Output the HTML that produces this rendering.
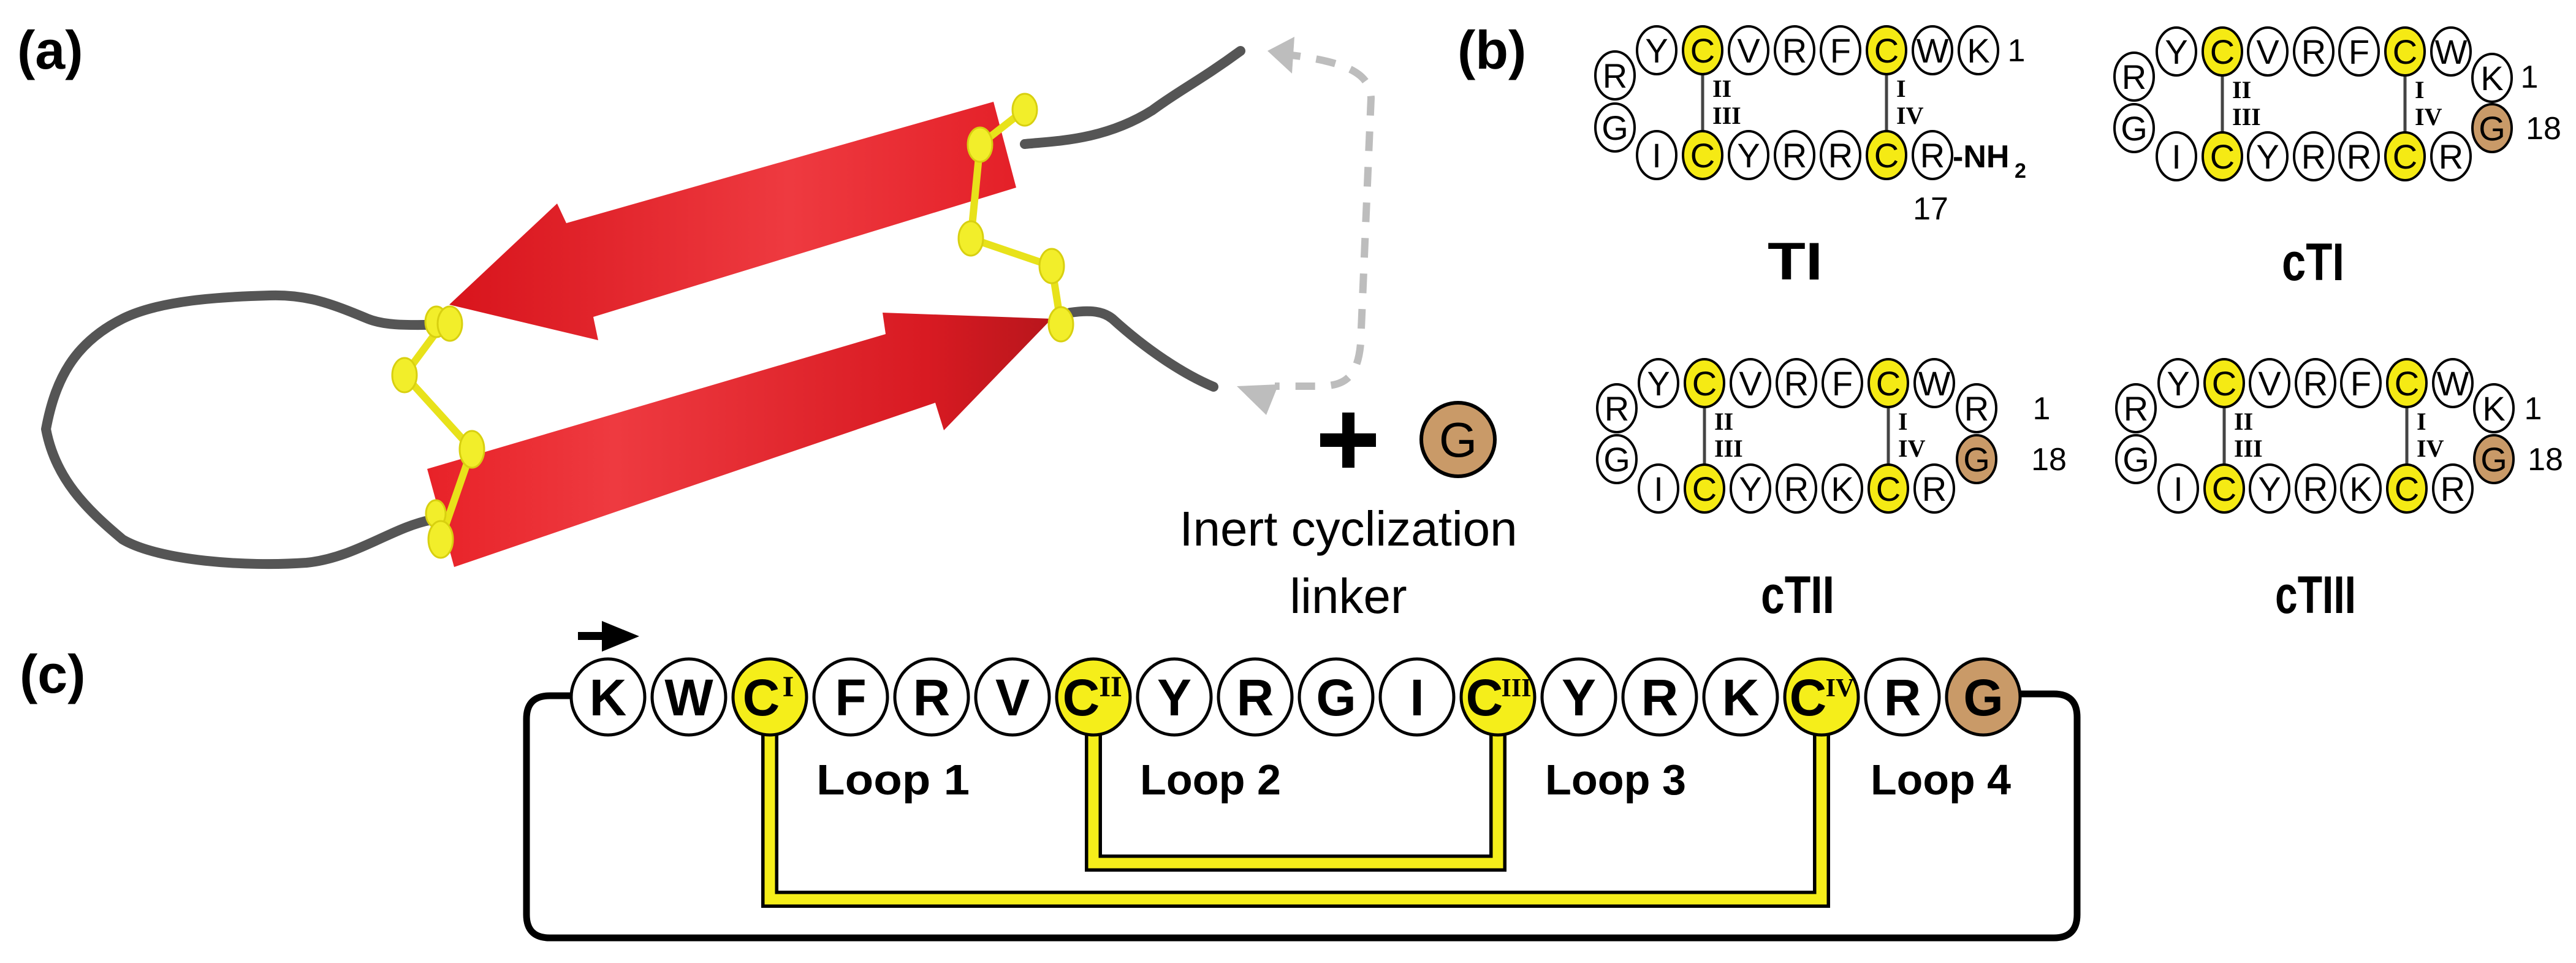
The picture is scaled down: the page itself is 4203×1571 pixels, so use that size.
<!DOCTYPE html>
<html><head><meta charset="utf-8"><style>
html,body{margin:0;padding:0;background:#fff;}
svg{display:block;}
.rn{font-family:"Liberation Serif",serif;font-weight:bold;font-size:40px;}
.sup{font-family:"Liberation Serif",serif;font-weight:bold;font-size:48px;}
.num{font-family:"Liberation Sans",sans-serif;font-size:52px;font-weight:normal;}
.lbl{font-family:"Liberation Sans",sans-serif;font-weight:bold;}
</style></head><body>
<svg width="4203" height="1571" viewBox="0 0 4203 1571" xmlns="http://www.w3.org/2000/svg">
<defs>
<linearGradient id="rg1" x1="0" y1="0" x2="1" y2="0">
<stop offset="0" stop-color="#d8141c"/><stop offset="0.6" stop-color="#ee3a40"/><stop offset="1" stop-color="#e42028"/>
</linearGradient>
<linearGradient id="rg2" x1="0" y1="0" x2="1" y2="0">
<stop offset="0" stop-color="#e82228"/><stop offset="0.3" stop-color="#ee3a40"/><stop offset="0.8" stop-color="#d81a22"/><stop offset="1" stop-color="#b8161c"/>
</linearGradient>
</defs>

<text x="28" y="112" class="lbl" font-size="88">(a)</text>
<text x="2378" y="112" class="lbl" font-size="88">(b)</text>
<text x="32" y="1130" class="lbl" font-size="88">(c)</text>

<!-- ===== Panel (a) ===== -->
<g fill="none" stroke="#555" stroke-width="16" stroke-linecap="round" stroke-linejoin="round">
<path d="M2024,83 C1960,130 1920,150 1880,180 C1800,230 1720,230 1672,235"/>
<path d="M704,530 C670,530 630,532 600,520 C540,495 500,480 440,482 C360,484 260,490 200,520 C120,560 90,620 75,700 C90,780 140,830 200,880 C260,915 400,925 500,918 C580,910 640,860 704,848"/>
<path d="M1746,510 C1780,505 1800,508 1815,520 C1870,570 1930,610 1980,631"/>
</g>
<polygon points="1621,166 1658,306 968,517 976,555 733,497 909,332 924,364" fill="url(#rg1)"/>
<polygon points="697,765 1445,545 1440,510 1716,520 1540,702 1526,657 741,925" fill="url(#rg2)"/>
<g stroke="#e8e21a" stroke-width="12" fill="none" stroke-linecap="round">
<path d="M1672,179 L1599,236 L1584,389 L1716,434 L1731,529"/>
<path d="M726,523 L660,612 L770,733 L719,880"/>
</g>
<g fill="#f2ee2a" stroke="#d8d010" stroke-width="3">
<ellipse cx="1672" cy="179" rx="20" ry="26"/>
<ellipse cx="1599" cy="236" rx="20" ry="28"/>
<ellipse cx="1584" cy="389" rx="20" ry="28"/>
<ellipse cx="1716" cy="434" rx="20" ry="28"/>
<ellipse cx="1731" cy="529" rx="20" ry="28"/>
<ellipse cx="712" cy="525" rx="18" ry="25"/>
<ellipse cx="734" cy="528" rx="20" ry="28"/>
<ellipse cx="660" cy="612" rx="20" ry="28"/>
<ellipse cx="770" cy="733" rx="20" ry="30"/>
<ellipse cx="711" cy="838" rx="16" ry="22"/>
<ellipse cx="719" cy="880" rx="20" ry="30"/>
</g>
<path d="M2090,88 C2200,100 2235,120 2237,160 L2220,560 C2215,620 2190,630 2150,630 L2080,630" fill="none" stroke="#bdbdbd" stroke-width="12" stroke-dasharray="32 26"/>
<polygon points="2068,83 2112,60 2108,120" fill="#bdbdbd"/>
<polygon points="2018,630 2086,627 2066,677" fill="#bdbdbd"/>
<rect x="2154" y="707" width="91" height="22" fill="#000"/>
<rect x="2190" y="673" width="20" height="90" fill="#000"/>
<circle cx="2379" cy="717" r="60" fill="#c99a68" stroke="#000" stroke-width="6"/>
<text x="2379" y="745" font-family="Liberation Sans,sans-serif" font-size="80" text-anchor="middle">G</text>
<text x="2200" y="890" font-family="Liberation Sans,sans-serif" font-size="80" text-anchor="middle">Inert cyclization</text>
<text x="2200" y="1000" font-family="Liberation Sans,sans-serif" font-size="80" text-anchor="middle">linker</text>

<!-- ===== Panel (b) ===== -->
<g font-family="Liberation Sans, sans-serif" font-size="56" text-anchor="middle">
<!-- TI -->
<g transform="translate(0,82)">
<g stroke="#444" stroke-width="5"><line x1="2778" y1="38" x2="2778" y2="133"/><line x1="3078" y1="38" x2="3078" y2="133"/></g>
<g fill="#fff" stroke="#000" stroke-width="4">
<ellipse cx="2635" cy="41" rx="32" ry="39"/><ellipse cx="2635" cy="126" rx="32" ry="39"/>
<ellipse cx="2703" cy="0" rx="32" ry="39"/><ellipse cx="2778" cy="0" rx="32" ry="39" fill="#f5ea14"/><ellipse cx="2853" cy="0" rx="32" ry="39"/><ellipse cx="2928" cy="0" rx="32" ry="39"/><ellipse cx="3003" cy="0" rx="32" ry="39"/><ellipse cx="3078" cy="0" rx="32" ry="39" fill="#f5ea14"/><ellipse cx="3153" cy="0" rx="32" ry="39"/><ellipse cx="3228" cy="0" rx="32" ry="39"/>
<ellipse cx="2703" cy="171" rx="32" ry="39"/><ellipse cx="2778" cy="171" rx="32" ry="39" fill="#f5ea14"/><ellipse cx="2853" cy="171" rx="32" ry="39"/><ellipse cx="2928" cy="171" rx="32" ry="39"/><ellipse cx="3003" cy="171" rx="32" ry="39"/><ellipse cx="3078" cy="171" rx="32" ry="39" fill="#f5ea14"/><ellipse cx="3153" cy="171" rx="32" ry="39"/>
</g>
<text x="2635" y="61">R</text><text x="2635" y="146">G</text>
<text x="2703" y="20">Y</text><text x="2778" y="20">C</text><text x="2853" y="20">V</text><text x="2928" y="20">R</text><text x="3003" y="20">F</text><text x="3078" y="20">C</text><text x="3153" y="20">W</text><text x="3228" y="20">K</text>
<text x="2703" y="191">I</text><text x="2778" y="191">C</text><text x="2853" y="191">Y</text><text x="2928" y="191">R</text><text x="3003" y="191">R</text><text x="3078" y="191">C</text><text x="3153" y="191">R</text>
<text class="rn" x="2794" y="76" text-anchor="start">II</text><text class="rn" x="2794" y="120" text-anchor="start">III</text>
<text class="rn" x="3094" y="76" text-anchor="start">I</text><text class="rn" x="3094" y="120" text-anchor="start">IV</text>
<text class="num" x="3290" y="18">1</text>
<text x="3186" y="191" text-anchor="start" font-size="52" font-weight="bold">-NH</text><text x="3287" y="208" font-size="34" font-weight="bold" text-anchor="start">2</text>
<text class="num" x="3150" y="276">17</text>
</g>
<text x="2929" y="456" class="lbl" font-size="86" textLength="90" lengthAdjust="spacingAndGlyphs">TI</text>

<!-- cTII -->
<g transform="translate(3,625)">
<g stroke="#444" stroke-width="5"><line x1="2778" y1="38" x2="2778" y2="133"/><line x1="3078" y1="38" x2="3078" y2="133"/></g>
<g fill="#fff" stroke="#000" stroke-width="4">
<ellipse cx="2635" cy="41" rx="32" ry="39"/><ellipse cx="2635" cy="124" rx="32" ry="39"/>
<ellipse cx="2703" cy="0" rx="32" ry="39"/><ellipse cx="2778" cy="0" rx="32" ry="39" fill="#f5ea14"/><ellipse cx="2853" cy="0" rx="32" ry="39"/><ellipse cx="2928" cy="0" rx="32" ry="39"/><ellipse cx="3003" cy="0" rx="32" ry="39"/><ellipse cx="3078" cy="0" rx="32" ry="39" fill="#f5ea14"/><ellipse cx="3153" cy="0" rx="32" ry="39"/>
<ellipse cx="3222" cy="41" rx="32" ry="39"/><ellipse cx="3222" cy="124" rx="32" ry="39" fill="#c99a68"/>
<ellipse cx="2703" cy="172" rx="32" ry="39"/><ellipse cx="2778" cy="172" rx="32" ry="39" fill="#f5ea14"/><ellipse cx="2853" cy="172" rx="32" ry="39"/><ellipse cx="2928" cy="172" rx="32" ry="39"/><ellipse cx="3003" cy="172" rx="32" ry="39"/><ellipse cx="3078" cy="172" rx="32" ry="39" fill="#f5ea14"/><ellipse cx="3153" cy="172" rx="32" ry="39"/>
</g>
<text x="2635" y="61">R</text><text x="2635" y="144">G</text>
<text x="2703" y="20">Y</text><text x="2778" y="20">C</text><text x="2853" y="20">V</text><text x="2928" y="20">R</text><text x="3003" y="20">F</text><text x="3078" y="20">C</text><text x="3153" y="20">W</text>
<text x="3222" y="61">R</text><text x="3222" y="144">G</text>
<text x="2703" y="192">I</text><text x="2778" y="192">C</text><text x="2853" y="192">Y</text><text x="2928" y="192">R</text><text x="3003" y="192">K</text><text x="3078" y="192">C</text><text x="3153" y="192">R</text>
<text class="rn" x="2794" y="76" text-anchor="start">II</text><text class="rn" x="2794" y="120" text-anchor="start">III</text>
<text class="rn" x="3094" y="76" text-anchor="start">I</text><text class="rn" x="3094" y="120" text-anchor="start">IV</text>
<text class="num" x="3328" y="59">1</text>
<text class="num" x="3340" y="142">18</text>
</g>
<text x="2933" y="1000" class="lbl" font-size="86" textLength="120" lengthAdjust="spacingAndGlyphs">cTII</text>

<!-- cTI -->
<g transform="translate(0,84)">
<g stroke="#444" stroke-width="5"><line x1="3626" y1="38" x2="3626" y2="133"/><line x1="3924" y1="38" x2="3924" y2="133"/></g>
<g fill="#fff" stroke="#000" stroke-width="4">
<ellipse cx="3482" cy="41" rx="32" ry="39"/><ellipse cx="3482" cy="125" rx="32" ry="39"/>
<ellipse cx="3551" cy="0" rx="32" ry="39"/><ellipse cx="3626" cy="0" rx="32" ry="39" fill="#f5ea14"/><ellipse cx="3700" cy="0" rx="32" ry="39"/><ellipse cx="3775" cy="0" rx="32" ry="39"/><ellipse cx="3849" cy="0" rx="32" ry="39"/><ellipse cx="3924" cy="0" rx="32" ry="39" fill="#f5ea14"/><ellipse cx="3999" cy="0" rx="32" ry="39"/>
<ellipse cx="4066" cy="43" rx="32" ry="39"/><ellipse cx="4066" cy="125" rx="32" ry="39" fill="#c99a68"/>
<ellipse cx="3551" cy="171" rx="32" ry="39"/><ellipse cx="3626" cy="171" rx="32" ry="39" fill="#f5ea14"/><ellipse cx="3700" cy="171" rx="32" ry="39"/><ellipse cx="3775" cy="171" rx="32" ry="39"/><ellipse cx="3849" cy="171" rx="32" ry="39"/><ellipse cx="3924" cy="171" rx="32" ry="39" fill="#f5ea14"/><ellipse cx="3999" cy="171" rx="32" ry="39"/>
</g>
<text x="3482" y="61">R</text><text x="3482" y="145">G</text>
<text x="3551" y="20">Y</text><text x="3626" y="20">C</text><text x="3700" y="20">V</text><text x="3775" y="20">R</text><text x="3849" y="20">F</text><text x="3924" y="20">C</text><text x="3999" y="20">W</text>
<text x="4066" y="63">K</text><text x="4066" y="145">G</text>
<text x="3551" y="191">I</text><text x="3626" y="191">C</text><text x="3700" y="191">Y</text><text x="3775" y="191">R</text><text x="3849" y="191">R</text><text x="3924" y="191">C</text><text x="3999" y="191">R</text>
<text class="rn" x="3642" y="76" text-anchor="start">II</text><text class="rn" x="3642" y="120" text-anchor="start">III</text>
<text class="rn" x="3940" y="76" text-anchor="start">I</text><text class="rn" x="3940" y="120" text-anchor="start">IV</text>
<text class="num" x="4127" y="59">1</text>
<text class="num" x="4150" y="143">18</text>
</g>
<text x="3774" y="457" class="lbl" font-size="86" textLength="102" lengthAdjust="spacingAndGlyphs">cTI</text>

<!-- cTIII -->
<g transform="translate(3,625)">
<g stroke="#444" stroke-width="5"><line x1="3626" y1="38" x2="3626" y2="133"/><line x1="3924" y1="38" x2="3924" y2="133"/></g>
<g fill="#fff" stroke="#000" stroke-width="4">
<ellipse cx="3482" cy="41" rx="32" ry="39"/><ellipse cx="3482" cy="124" rx="32" ry="39"/>
<ellipse cx="3551" cy="0" rx="32" ry="39"/><ellipse cx="3626" cy="0" rx="32" ry="39" fill="#f5ea14"/><ellipse cx="3700" cy="0" rx="32" ry="39"/><ellipse cx="3775" cy="0" rx="32" ry="39"/><ellipse cx="3849" cy="0" rx="32" ry="39"/><ellipse cx="3924" cy="0" rx="32" ry="39" fill="#f5ea14"/><ellipse cx="3999" cy="0" rx="32" ry="39"/>
<ellipse cx="4066" cy="41" rx="32" ry="39"/><ellipse cx="4066" cy="124" rx="32" ry="39" fill="#c99a68"/>
<ellipse cx="3551" cy="172" rx="32" ry="39"/><ellipse cx="3626" cy="172" rx="32" ry="39" fill="#f5ea14"/><ellipse cx="3700" cy="172" rx="32" ry="39"/><ellipse cx="3775" cy="172" rx="32" ry="39"/><ellipse cx="3849" cy="172" rx="32" ry="39"/><ellipse cx="3924" cy="172" rx="32" ry="39" fill="#f5ea14"/><ellipse cx="3999" cy="172" rx="32" ry="39"/>
</g>
<text x="3482" y="61">R</text><text x="3482" y="144">G</text>
<text x="3551" y="20">Y</text><text x="3626" y="20">C</text><text x="3700" y="20">V</text><text x="3775" y="20">R</text><text x="3849" y="20">F</text><text x="3924" y="20">C</text><text x="3999" y="20">W</text>
<text x="4066" y="61">K</text><text x="4066" y="144">G</text>
<text x="3551" y="192">I</text><text x="3626" y="192">C</text><text x="3700" y="192">Y</text><text x="3775" y="192">R</text><text x="3849" y="192">K</text><text x="3924" y="192">C</text><text x="3999" y="192">R</text>
<text class="rn" x="3642" y="76" text-anchor="start">II</text><text class="rn" x="3642" y="120" text-anchor="start">III</text>
<text class="rn" x="3940" y="76" text-anchor="start">I</text><text class="rn" x="3940" y="120" text-anchor="start">IV</text>
<text class="num" x="4130" y="59">1</text>
<text class="num" x="4150" y="142">18</text>
</g>
<text x="3778" y="1000" class="lbl" font-size="86" textLength="132" lengthAdjust="spacingAndGlyphs">cTIII</text>
</g>

<!-- ===== Panel (c) ===== -->
<path d="M932,1135 L897,1135 Q859,1135 859,1173 L859,1492 Q859,1530 897,1530 L3351,1530 Q3389,1530 3389,1492 L3389,1170 Q3389,1132 3351,1132 L3296,1132" fill="none" stroke="#000" stroke-width="11"/>
<rect x="943" y="1031" width="45" height="13" fill="#000"/>
<polygon points="982,1013 1043,1038 982,1063" fill="#000"/>
<g fill="none" stroke-linejoin="miter" stroke-linecap="butt">
<path d="M1256,1195 V1467 H2972 V1195" stroke="#000" stroke-width="28"/>
<path d="M1256,1195 V1467 H2972 V1195" stroke="#f5ee1a" stroke-width="17"/>
<path d="M1784,1195 V1408 H2444 V1195" stroke="#000" stroke-width="28"/>
<path d="M1784,1195 V1408 H2444 V1195" stroke="#f5ee1a" stroke-width="17"/>
</g>
<g font-family="Liberation Sans, sans-serif" font-size="84" font-weight="bold" text-anchor="middle">
<g fill="#fff" stroke="#000" stroke-width="5">
<ellipse cx="992" cy="1137" rx="60" ry="62"/>
<ellipse cx="1124" cy="1137" rx="60" ry="62"/>
<ellipse cx="1256" cy="1137" rx="60" ry="62" fill="#f5ee1a"/>
<ellipse cx="1388" cy="1137" rx="60" ry="62"/>
<ellipse cx="1520" cy="1137" rx="60" ry="62"/>
<ellipse cx="1652" cy="1137" rx="60" ry="62"/>
<ellipse cx="1784" cy="1137" rx="60" ry="62" fill="#f5ee1a"/>
<ellipse cx="1916" cy="1137" rx="60" ry="62"/>
<ellipse cx="2048" cy="1137" rx="60" ry="62"/>
<ellipse cx="2180" cy="1137" rx="60" ry="62"/>
<ellipse cx="2312" cy="1137" rx="60" ry="62"/>
<ellipse cx="2444" cy="1137" rx="60" ry="62" fill="#f5ee1a"/>
<ellipse cx="2576" cy="1137" rx="60" ry="62"/>
<ellipse cx="2708" cy="1137" rx="60" ry="62"/>
<ellipse cx="2840" cy="1137" rx="60" ry="62"/>
<ellipse cx="2972" cy="1137" rx="60" ry="62" fill="#f5ee1a"/>
<ellipse cx="3104" cy="1137" rx="60" ry="62"/>
<ellipse cx="3236" cy="1137" rx="60" ry="62" fill="#c99a68"/>
</g>
<text x="992" y="1167">K</text>
<text x="1124" y="1167">W</text>
<text x="1242" y="1167">C</text><text class="sup" x="1286" y="1136">I</text>
<text x="1388" y="1167">F</text>
<text x="1520" y="1167">R</text>
<text x="1652" y="1167">V</text>
<text x="1764" y="1167">C</text><text class="sup" x="1812" y="1136">II</text>
<text x="1916" y="1167">Y</text>
<text x="2048" y="1167">R</text>
<text x="2180" y="1167">G</text>
<text x="2312" y="1167">I</text>
<text x="2422" y="1167">C</text><text class="sup" x="2474" y="1136" style="font-size:42px">III</text>
<text x="2950" y="1167">C</text><text class="sup" x="3002" y="1136" style="font-size:42px">IV</text>
<text x="2576" y="1167">Y</text>
<text x="2708" y="1167">R</text>
<text x="2840" y="1167">K</text>
<text x="3104" y="1167">R</text>
<text x="3236" y="1167">G</text>
</g>
<g class="lbl" font-size="70">
<text x="1332" y="1296" textLength="250" lengthAdjust="spacingAndGlyphs">Loop 1</text>
<text x="1860" y="1296" textLength="230" lengthAdjust="spacingAndGlyphs">Loop 2</text>
<text x="2521" y="1296" textLength="230" lengthAdjust="spacingAndGlyphs">Loop 3</text>
<text x="3052" y="1296" textLength="229" lengthAdjust="spacingAndGlyphs">Loop 4</text>
</g>
</svg>
</body></html>
